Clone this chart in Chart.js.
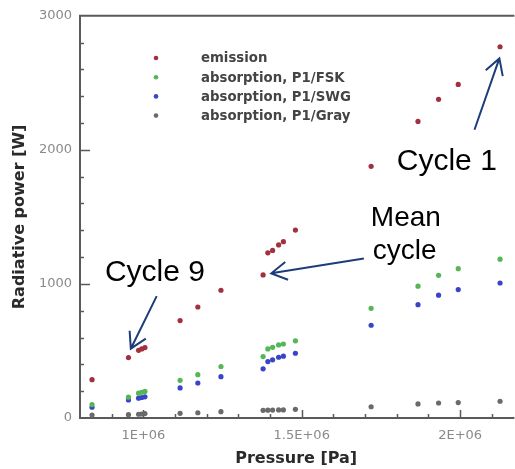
<!DOCTYPE html>
<html><head><meta charset="utf-8">
<script src="https://cdn.jsdelivr.net/npm/chart.js@4"></script>
<style>html,body{margin:0;padding:0;background:#fff}canvas{display:block}</style>
</head><body>
<canvas id="c" width="515" height="469"></canvas>
<script>
// ---- data ----
const pressure = [0.838e6, 0.953e6, 0.985e6, 0.995e6, 1.005e6, 1.116e6, 1.172e6, 1.245e6, 1.378e6, 1.393e6, 1.408e6, 1.427e6, 1.442e6, 1.480e6, 1.719e6, 1.867e6, 1.932e6, 1.994e6, 2.126e6];
const emission = [286, 451, 505, 515, 525, 727, 828, 953, 1067, 1232, 1250, 1291, 1315, 1402, 1877, 2212, 2377, 2488, 2769];
const absFSK   = [100, 155, 185, 192, 198, 281, 323, 384, 458, 515, 527, 545, 552, 576, 818, 983, 1064, 1114, 1185];
const absSWG   = [80, 135, 148, 153, 158, 224, 261, 308, 367, 421, 434, 453, 461, 483, 692, 845, 916, 958, 1007];
const absGray  = [22, 25, 28, 30, 33, 35, 39, 47, 57, 58, 59, 60, 60, 65, 84, 105, 112, 115, 125];
const seriesLabels = ['emission', 'absorption, P1/FSK', 'absorption, P1/SWG', 'absorption, P1/Gray'];
const xTickValues = [1e6, 1.5e6, 2e6];
const xTickLabels = ['1E+06', '1.5E+06', '2E+06'];
const yTickValues = [0, 1000, 2000, 3000];
const yTickLabels = ['0', '1000', '2000', '3000'];
const xTitle = 'Pressure [Pa]';
const yTitle = 'Radiative power [W]';
const annotations = [
  {text: ['Cycle 1'], at: [1.8e6, 1847], size: 30, from: [2.0453e6, 2150], to: [2.1239e6, 2682]},
  {text: ['Mean', 'cycle'], at: [1.7182e6, 1433], size: 28, from: [1.6962e6, 1190], to: [1.4038e6, 1079]},
  {text: ['Cycle 9'], at: [0.8786e6, 1020], size: 30, from: [1.0421e6, 909], to: [0.9604e6, 517]}
];

// ---- styles ----
const colors = ['#a3303f', '#55b655', '#3a44c8', '#6a6a6a'];
const seriesValues = [emission, absFSK, absSWG, absGray];
function pts(vals) { return pressure.map((p, i) => ({x: p, y: vals[i]})); }

const decor = {
  id: 'decor',
  beforeDatasetsDraw(chart) {
    const {ctx, chartArea: a, scales: {x, y}} = chart;
    ctx.save();
    ctx.strokeStyle = '#5a5a5a';
    ctx.lineWidth = 2;
    ctx.beginPath();
    ctx.moveTo(a.left, a.top); ctx.lineTo(a.right + 2, a.top);
    ctx.moveTo(a.left, a.top - 1); ctx.lineTo(a.left, a.bottom + 1);
    ctx.moveTo(a.left - 1, a.bottom); ctx.lineTo(a.right + 2, a.bottom);
    ctx.stroke();
    ctx.lineWidth = 1.5;
    ctx.beginPath();
    for (let v = 200; v < 3000; v += 200) {
      const py = Math.round(y.getPixelForValue(v)) + 0.5;
      const len = v % 1000 === 0 ? 10 : 4;
      ctx.moveTo(a.left, py); ctx.lineTo(a.left + len, py);
    }
    for (let k = 9; k <= 21; k++) {
      const px = Math.round(x.getPixelForValue(k * 1e5)) + 0.5;
      const len = (k === 10 || k === 15 || k === 20) ? 8 : 4;
      ctx.moveTo(px, a.bottom); ctx.lineTo(px, a.bottom - len);
    }
    ctx.stroke();
    ctx.restore();
  },
  afterDraw(chart) {
    const {ctx, scales: {x, y}} = chart;
    ctx.save();
    // legend
    ctx.font = 'bold 13.3px "DejaVu Sans"';
    ctx.textBaseline = 'middle';
    seriesLabels.forEach((lab, i) => {
      const ry = 58 + i * 19.2;
      ctx.fillStyle = colors[i];
      ctx.beginPath(); ctx.arc(156, ry, 2.3, 0, Math.PI * 2); ctx.fill();
      ctx.fillStyle = '#444';
      ctx.fillText(lab, 201, ry + 1);
    });
    // annotations
    ctx.textBaseline = 'alphabetic';
    ctx.fillStyle = '#000';
    ctx.strokeStyle = '#1d3d7a';
    ctx.lineWidth = 2;
    annotations.forEach(an => {
      ctx.font = an.size + 'px "Liberation Sans", Arial';
      const tx = x.getPixelForValue(an.at[0]);
      const ty = y.getPixelForValue(an.at[1]);
      an.text.forEach((t, j) => ctx.fillText(t, tx + j * 2, ty + j * 33));
      const x0 = x.getPixelForValue(an.from[0]), y0 = y.getPixelForValue(an.from[1]);
      const x1 = x.getPixelForValue(an.to[0]), y1 = y.getPixelForValue(an.to[1]);
      const ang = Math.atan2(y1 - y0, x1 - x0);
      const hl = 18, ha = Math.PI / 6;
      ctx.beginPath();
      ctx.moveTo(x0, y0); ctx.lineTo(x1, y1);
      ctx.moveTo(x1 - hl * Math.cos(ang - ha), y1 - hl * Math.sin(ang - ha));
      ctx.lineTo(x1, y1);
      ctx.lineTo(x1 - hl * Math.cos(ang + ha), y1 - hl * Math.sin(ang + ha));
      ctx.stroke();
    });
    ctx.restore();
  }
};

new Chart(document.getElementById('c'), {
  type: 'scatter',
  data: {
    datasets: seriesValues.map((vals, i) => ({
      label: seriesLabels[i],
      data: pts(vals),
      backgroundColor: colors[i],
      borderColor: colors[i],
      borderWidth: 0,
      pointRadius: 2.6,
      pointHoverRadius: 2.6
    }))
  },
  options: {
    responsive: false,
    animation: false,
    events: [],
    layout: {padding: {top: 12, right: 1, left: 0, bottom: 0}},
    plugins: {legend: {display: false}, tooltip: {enabled: false}},
    scales: {
      x: {
        type: 'linear', min: 0.8e6, max: 2.165e6,
        grid: {display: false, drawTicks: false},
        border: {display: false},
        afterBuildTicks: s => { s.ticks = xTickValues.map(v => ({value: v})); },
        afterFit: s => { s.height = 51; },
        ticks: {
          autoSkip: false, maxRotation: 0, padding: 10,
          color: '#8a8a8a', font: {family: 'DejaVu Sans', size: 13},
          callback: (v) => xTickLabels[xTickValues.indexOf(v)]
        },
        title: {display: true, text: xTitle, color: '#2a2a2a',
          font: {family: 'DejaVu Sans', weight: 'bold', size: 16},
          padding: {top: 0, bottom: 1}}
      },
      y: {
        type: 'linear', min: 0, max: 3000,
        grid: {display: false, drawTicks: false},
        border: {display: false},
        afterBuildTicks: s => { s.ticks = yTickValues.map(v => ({value: v})); },
        afterFit: s => { s.width = 80; },
        ticks: {
          autoSkip: false, padding: 8,
          color: '#8a8a8a', font: {family: 'DejaVu Sans', size: 13},
          callback: (v) => yTickLabels[yTickValues.indexOf(v)]
        },
        title: {display: true, text: yTitle, color: '#2a2a2a',
          font: {family: 'DejaVu Sans', weight: 'bold', size: 16},
          padding: {top: 10, bottom: 0}}
      }
    }
  },
  plugins: [decor]
});
</script>
</body></html>
